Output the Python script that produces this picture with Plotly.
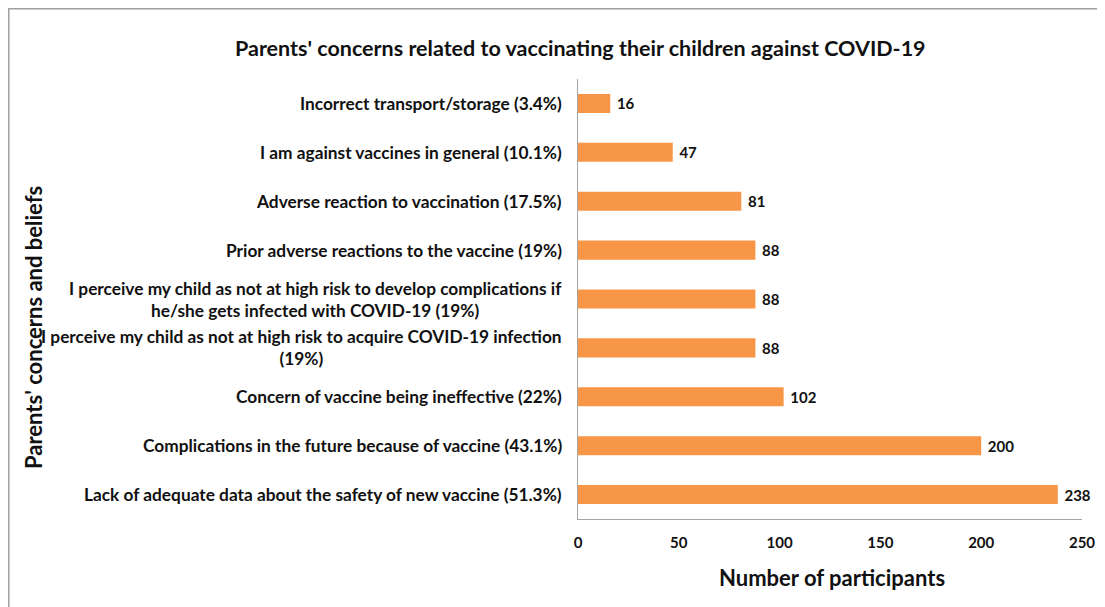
import plotly.graph_objects as go

categories = [
    "Incorrect transport/storage (3.4%)",
    "I am against vaccines in general (10.1%)",
    "Adverse reaction to vaccination (17.5%)",
    "Prior adverse reactions to the vaccine (19%)",
    "I perceive my child as not at high risk to develop complications if<br>he/she gets infected with COVID-19 (19%)",
    "I perceive my child as not at high risk to acquire COVID-19 infection<br>(19%)",
    "Concern of vaccine being ineffective (22%)",
    "Complications in the future because of vaccine (43.1%)",
    "Lack of adequate data about the safety of new vaccine (51.3%)",
]
values = [16, 47, 81, 88, 88, 88, 102, 200, 238]
x_ticks = [0, 50, 100, 150, 200, 250]

title_text = "Parents' concerns related to vaccinating their children against COVID-19"
x_title = "Number of participants"
y_title = "Parents' concerns and beliefs"

FONT = "Lato"
TXT = "#111111"
OFF = 8  # page offset of the plot div
W, H = 1105 - OFF, 607 - OFF
L, R, T, B = 578 - OFF, 23, 79 - OFF, 88
pw, ph = W - L - R, H - T - B


def px(xp):
    return (xp - OFF - L) / pw


def py(yp):
    return (H - B - (yp - OFF)) / ph


fig = go.Figure()
fig.add_trace(go.Bar(
    x=values, y=list(range(len(categories))), orientation="h",
    marker=dict(color="#F79646", line=dict(width=0)),
    text=values, textposition="outside", cliponaxis=False,
    texttemplate=" %{x}",
    textfont=dict(family=FONT, size=15, color=TXT, weight="bold"),
    hoverinfo="skip",
))

annotations = []
for i, c in enumerate(categories):
    annotations.append(dict(
        x=0, y=i, xref="x", yref="y", text=c, showarrow=False,
        xanchor="right", yanchor="middle", align="center", xshift=-14,
        font=dict(family=FONT, size=17.3, color=TXT, weight="bold"),
    ))

annotations.append(dict(
    x=px(580), y=py(48), xref="paper", yref="paper", text=title_text,
    showarrow=False, xanchor="center", yanchor="middle",
    font=dict(family=FONT, size=21.5, color=TXT, weight="bold"),
))
annotations.append(dict(
    x=px(832), y=py(577), xref="paper", yref="paper", text=x_title,
    showarrow=False, xanchor="center", yanchor="middle",
    font=dict(family=FONT, size=22, color=TXT, weight="bold"),
))
annotations.append(dict(
    x=px(33), y=py(328), xref="paper", yref="paper", text=y_title, showarrow=False,
    textangle=-90, xanchor="center", yanchor="middle",
    font=dict(family=FONT, size=22, color=TXT, weight="bold"),
))

fig.update_layout(
    width=W, height=H,
    margin=dict(l=L, r=R, t=T, b=B, autoexpand=False),
    paper_bgcolor="white", plot_bgcolor="white",
    showlegend=False,
    bargap=0.61,
    annotations=annotations,
    xaxis=dict(
        range=[0, 250], tickvals=x_ticks, ticks="", showgrid=False, zeroline=False,
        showline=True, linecolor="#A6A6A6", linewidth=1,
        tickfont=dict(family=FONT, size=15, color=TXT, weight="bold"),
        ticklabelstandoff=10,
        fixedrange=True,
    ),
    yaxis=dict(
        range=[len(categories) - 0.5, -0.5], showticklabels=False, ticks="",
        showgrid=False, zeroline=False, showline=True, linecolor="#A6A6A6", linewidth=1,
        fixedrange=True,
    ),
)

# outer chart border (left and top)
fig.add_shape(type="line", xref="paper", yref="paper", x0=-L / pw + 0.8 / pw, x1=-L / pw + 0.8 / pw,
              y0=1 + T / ph, y1=-B / ph - 0.01, line=dict(color="#A0A0A0", width=1.5))
fig.add_shape(type="line", xref="paper", yref="paper", x0=-L / pw, x1=1 + R / pw + 0.01,
              y0=1 + T / ph - 0.8 / ph, y1=1 + T / ph - 0.8 / ph, line=dict(color="#A0A0A0", width=1.5))

fig.write_html("out.html")
